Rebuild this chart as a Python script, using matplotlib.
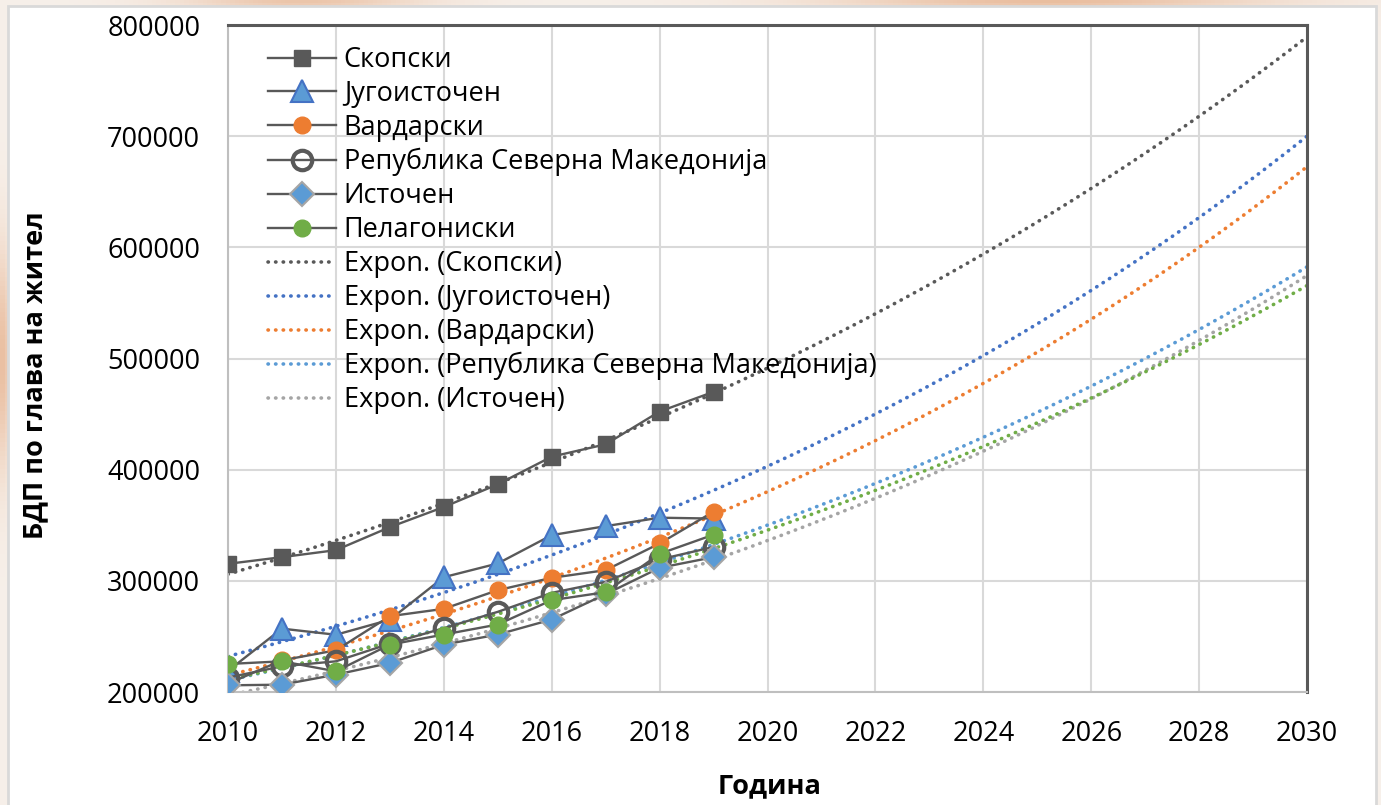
import numpy as np
import matplotlib.pyplot as plt
from matplotlib.patches import Rectangle

plt.rcParams['font.family'] = ['Open Sans', 'DejaVu Sans']

# ---------------- data ----------------
years = [2010, 2011, 2012, 2013, 2014, 2015, 2016, 2017, 2018, 2019]

skopski = [315300, 321300, 327600, 348300, 366400, 386800, 411700, 422800, 452300, 470000]
jugoistocen = [219000, 257000, 251500, 265000, 303300, 315600, 341100, 349200, 356800, 356000]
vardarski = [207500, 228500, 237500, 268200, 274800, 291600, 302700, 309600, 333600, 362200]
rsm = [213000, 223100, 227600, 243500, 257400, 272100, 289200, 299100, 319200, 330500]
istocen = [206000, 206600, 215600, 226100, 242600, 251700, 265200, 288000, 311700, 321300]
pelagoniski = [225200, 227600, 218600, 242600, 251700, 260700, 282600, 289800, 324300, 341500]

names = ["Скопски", "Југоисточен", "Вардарски", "Република Северна Македонија",
         "Источен", "Пелагониски"]

trend_end = 2030

# ---------------- figure ----------------
W, H = 1381, 805
fig = plt.figure(figsize=(W / 100, H / 100), dpi=100)

# soft warm backdrop behind the white chart box
bg = fig.add_axes([0, 0, 1, 1], zorder=-10)
gx, gy = np.meshgrid(np.linspace(0, W, 300), np.linspace(0, H, 180))
base = np.array([247, 240, 234]) / 255
warm = np.array([226, 160, 115]) / 255
w = (0.8 * np.exp(-(((gx - 1050) / 220) ** 2 + ((gy + 20) / 40) ** 2))
     + 0.6 * np.exp(-(((gx - 300) / 120) ** 2 + ((gy + 10) / 30) ** 2))
     + 0.7 * np.exp(-(((gx + 10) / 25) ** 2 + ((gy - 360) / 110) ** 2)))
w = np.clip(w, 0, 1)[..., None]
img = base * (1 - w) + warm * w
bg.imshow(img, extent=[0, W, H, 0], aspect='auto')
bg.set_xlim(0, W)
bg.set_ylim(H, 0)
bg.axis('off')
bg.add_patch(Rectangle((8, 6), 1368, 820, facecolor='white',
                       edgecolor='#D9D9D9', linewidth=2))

ax = fig.add_axes([228 / W, 1 - 692 / H, (1307 - 228) / W, (692 - 25) / H])
ax.set_facecolor('none')

dark = '#595959'
line_kw = dict(color=dark, linewidth=1.7, zorder=3)

ax.plot(years, skopski, marker='s', markersize=11, markerfacecolor=dark,
        markeredgecolor=dark, label=names[0], **line_kw)
ax.plot(years, jugoistocen, marker='^', markersize=16, markerfacecolor='#5B9BD5',
        markeredgecolor='#4472C4', markeredgewidth=1.5, label=names[1], **line_kw)
ax.plot(years, vardarski, marker='o', markersize=12, markerfacecolor='#ED7D31',
        markeredgecolor='#ED7D31', label=names[2], **line_kw)
ax.plot(years, rsm, marker='o', markersize=14, markerfacecolor='none',
        markeredgecolor=dark, markeredgewidth=3, label=names[3], **line_kw)
ax.plot(years, istocen, marker='D', markersize=12, markerfacecolor='#5B9BD5',
        markeredgecolor='#A5A5A5', markeredgewidth=1.5, label=names[4], **line_kw)
ax.plot(years, pelagoniski, marker='o', markersize=12, markerfacecolor='#70AD47',
        markeredgecolor='#70AD47', label=names[5], **line_kw)

# exponential trendlines, fitted on ln(y) and extended to 2030
xs = np.linspace(2010, trend_end, 200)
trend_series = [
    (skopski, dark, names[0]),
    (jugoistocen, '#4472C4', names[1]),
    (vardarski, '#ED7D31', names[2]),
    (rsm, '#5B9BD5', names[3]),
    (istocen, '#A5A5A5', names[4]),
    (pelagoniski, '#70AD47', None),
]
for vals, col, nm in trend_series:
    b, a = np.polyfit(years, np.log(vals), 1)
    lbl = f"Expon. ({nm})" if nm else "_nolegend_"
    ax.plot(xs, np.exp(a + b * xs), color=col, linewidth=2.6,
            linestyle=(0, (0.1, 2.0)), dash_capstyle='round', label=lbl, zorder=2)

ax.set_xlim(2010, 2030)
ax.set_ylim(200000, 800000)
ax.set_xticks(range(2010, 2031, 2))
ax.set_yticks(range(200000, 800001, 100000))
ax.grid(True, color='#D9D9D9', linewidth=1.5, zorder=0)
ax.set_axisbelow(True)
ax.tick_params(length=0, labelsize=19.5)
ax.tick_params(axis='y', pad=20)
ax.tick_params(axis='x', pad=20)

for side in ['top', 'right']:
    ax.spines[side].set_color(dark)
    ax.spines[side].set_linewidth(2.2)
for side in ['left', 'bottom']:
    ax.spines[side].set_color('#BFBFBF')
    ax.spines[side].set_linewidth(1.5)

fig.text(35 / W, 1 - 375 / H, "БДП по глава на жител", rotation=90,
         ha='center', va='center', fontsize=19.5, fontweight='bold')
fig.text(770 / W, 1 - 786 / H, "Година", ha='center', va='center',
         fontsize=19.5, fontweight='bold')

ax.legend(loc='upper left', bbox_to_anchor=(268 / W, 1 - 46 / H),
          bbox_transform=fig.transFigure, frameon=False, fontsize=19.5,
          handlelength=2.5, handletextpad=0.3, labelspacing=0.22,
          borderaxespad=0, borderpad=0)

fig.savefig("out.png", dpi=100)
